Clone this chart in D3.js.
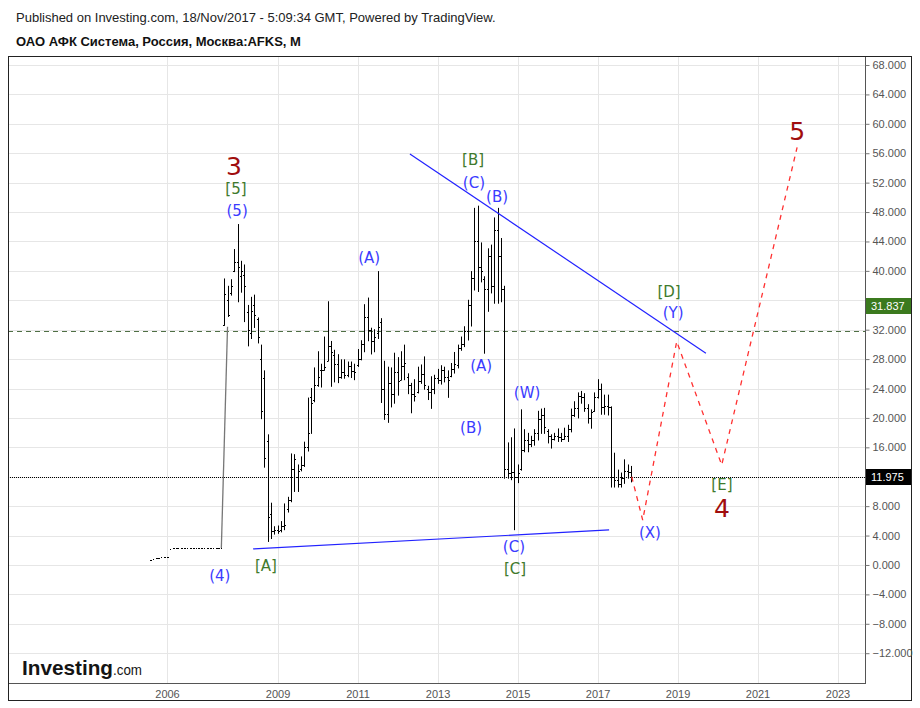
<!DOCTYPE html>
<html><head><meta charset="utf-8">
<script src="https://cdn.jsdelivr.net/npm/d3@7"></script>
<style>
body{margin:0;background:#fff;}
svg{display:block;font-family:"Liberation Sans",Arial,sans-serif;}
</style>
</head><body>
<svg id="c" width="920" height="708"></svg>
<script>
// ---------------- DATA ----------------
// Monthly OHLC, first bar = Sep 2007, last bar = Nov 2017
const firstBarYear = 2007, firstBarMonth = 8; // 0-based month (Sep)
const open = [32.6,36.0,37.0,40.0,41.2,39.3,39.5,34.4,31.5,35.3,33.4,28.0,25.4,16.9,6.9,4.6,4.8,4.7,5.3,7.6,
  8.8,13.0,12.0,13.0,13.6,16.0,22.8,22.5,24.5,26.5,26.5,27.8,29.8,28.5,27.3,25.5,26.3,25.9,27.0,26.4,
  27.2,28.0,30.0,33.7,31.9,30.4,31.5,33.1,24.0,20.5,24.8,23.2,26.2,25.2,27.0,25.5,24.5,23.3,23.5,25.0,
  26.0,24.0,23.5,24.0,25.4,25.2,26.5,25.5,25.7,26.6,27.2,29.5,30.0,31.8,35.4,39.0,44.0,40.5,38.9,37.5,
  42.0,38.0,45.5,42.0,37.5,13.0,12.5,12.6,12.0,13.0,15.6,17.0,16.5,17.0,18.0,19.8,20.4,18.2,17.6,17.2,
  17.5,17.4,17.2,17.6,18.5,20.4,21.4,23.0,22.8,21.4,20.0,21.0,22.8,24.0,21.5,21.6,21.5,12.0,11.5,11.0,
  11.8,12.8,12.6];
const high = [38.9,37.9,38.8,42.9,46.3,41.3,40.8,35.3,36.4,36.7,33.6,29.9,26.4,17.7,8.4,5.2,5.3,5.9,8.3,9.2,
  15.1,15.0,13.6,14.7,16.7,22.7,24.0,26.8,29.0,27.3,31.0,35.8,30.4,29.2,28.6,27.9,27.9,27.6,27.6,27.3,
  29.3,30.5,35.4,36.3,32.2,32.0,39.9,33.5,27.7,26.9,26.8,28.8,28.2,29.0,29.9,26.0,24.7,25.2,26.9,27.2,
  28.3,24.3,25.6,25.8,26.6,27.1,26.9,26.4,27.4,28.9,29.9,31.0,32.4,36.0,39.9,48.5,48.8,43.8,39.2,43.0,
  43.5,47.2,48.5,44.4,37.9,16.6,17.3,18.5,13.6,21.1,18.4,17.9,17.5,18.4,20.9,21.2,21.3,18.4,17.7,17.9,
  18.5,17.9,18.6,19.0,21.2,22.2,23.4,23.6,23.3,21.8,21.1,23.4,25.2,24.6,23.1,23.1,21.5,15.2,12.9,12.5,
  14.3,13.6,13.4];
const low = [32.6,33.8,36.7,39.9,35.8,37.1,33.1,29.8,30.8,32.3,30.2,19.9,13.3,3.2,3.6,4.2,4.3,4.5,4.8,7.2,
  8.6,10.0,10.0,12.8,13.4,15.5,17.9,22.2,24.3,24.2,26.5,27.8,24.3,24.9,24.8,25.4,25.4,25.6,25.5,25.2,
  27.0,27.9,29.0,30.5,28.7,29.0,30.8,22.1,19.8,19.4,21.5,22.0,23.1,25.2,25.2,23.3,20.7,22.3,23.4,24.7,
  23.9,22.5,21.3,23.3,24.7,24.6,24.9,22.8,25.6,26.1,26.8,29.2,29.7,30.6,32.5,37.4,37.2,38.5,28.8,34.5,
  37.0,35.6,35.6,35.8,11.8,11.8,11.6,4.8,11.2,12.9,15.4,15.4,16.1,16.3,17.0,17.9,17.9,16.6,15.9,17.0,
  16.8,16.8,17.1,16.8,18.1,20.2,20.0,22.0,20.9,19.3,18.6,20.9,22.7,20.5,20.5,20.4,10.6,10.6,10.6,10.6,
  11.1,11.8,11.3];
const close = [36.8,34.0,38.0,41.2,40.5,40.0,37.9,32.0,34.5,34.0,31.0,21.0,14.5,6.5,4.6,4.8,4.6,5.3,5.4,8.8,
  13.0,14.4,12.8,13.6,16.0,18.0,22.0,24.5,25.5,26.5,26.9,29.8,29.0,27.3,25.5,26.3,25.9,27.0,26.4,26.2,
  28.0,30.0,33.7,32.0,30.4,31.0,32.4,24.0,20.5,24.8,23.2,26.2,25.0,27.0,27.5,24.5,23.3,23.0,25.0,26.0,
  24.5,23.5,24.0,25.4,25.2,26.5,25.5,25.2,26.6,27.4,29.5,30.0,31.8,35.4,39.0,44.0,40.5,40.0,37.5,42.0,
  38.0,45.5,42.0,37.5,13.0,12.5,12.6,12.0,12.5,15.6,17.0,16.5,17.0,18.0,19.8,20.4,18.8,17.6,17.2,17.5,
  17.4,17.2,17.6,18.5,20.4,21.4,23.0,22.8,21.4,20.0,20.8,22.8,24.0,21.5,21.6,21.5,12.0,11.5,11.0,11.8,
  12.8,12.6,11.975];

// Early thin history, monthly from Jul 2005 to Aug 2007
const earlyStartYear = 2005, earlyStartMonth = 6;
const earlyValue = [0.7,0.75,0.9,1.0,1.05,1.1,1.1,2.2,2.3,2.25,2.3,2.3,2.35,2.3,2.3,2.35,2.3,2.3,2.35,2.3,
  2.3,2.35,2.3,2.3,2.35,2.3];

const yTickValues = [-12,-8,-4,0,4,8,12,16,20,24,28,32,36,40,44,48,52,56,60,64,68];
const yTickShown  = [-12,-8,-4,0,4,8,16,20,24,28,32,40,44,48,52,56,60,64,68];
const yearLabels = [2006,2009,2011,2013,2015,2017,2019,2021,2023];

const markerLevel = 31.837;   // green price marker (value shown)
const markerTagLevel = 35.2;  // where its tag sits on the scale
const lastPrice = 11.975;     // current price

// trendlines (decimal year, value)
const upperLine = [[2012.31,55.9],[2019.71,28.8]];
const lowerLine = [[2008.39,2.18],[2017.29,4.76]];
const jumpLine  = [[2007+7/12,2.3],[2007+9/12,32.4]];
const projection = [[2017.855,12.0],[2018.13,6.1],[2018.98,30.4],[2020.105,13.6],[2021.99,56.8]];

// Elliott wave labels
const waveText  = ["3","[5]","(5)","(4)","[A]","(A)","[B]","(C)","(B)","(A)","(B)","(W)","(C)","[C]","[D]","(Y)","(X)","[E]","4","5"];
const waveTime  = [2007.91,2007.96,2007.99,2007.54,2008.71,2011.29,2013.89,2013.91,2014.49,2014.09,2013.84,2015.24,2014.91,2014.94,2018.79,2018.89,2018.31,2020.11,2020.11,2021.99];
const waveValue = [54.2,51.2,48.1,-1.5,-0.14,41.75,55.1,52.0,50.0,27.1,18.6,23.4,2.45,-0.54,37.1,34.3,4.35,10.9,7.7,59.0];

// ---------------- CHART ----------------
const svg = d3.select("#c");
const L = 8, R = 865, T = 56, B = 683;
const x = d3.scaleLinear().domain([2006, 2007 + 8/12, 2024]).range([167, 224.2, 877.5]);
const y = d3.scaleLinear().domain([-12, 68]).range([653.2, 65]);

svg.append("defs").append("clipPath").attr("id","clip")
  .append("rect").attr("x",L).attr("y",T).attr("width",R-L).attr("height",B-T);

// header
svg.append("text").attr("x",16).attr("y",22).attr("font-size",13).attr("fill","#222")
  .text("Published on Investing.com, 18/Nov/2017 - 5:09:34 GMT, Powered by TradingView.");
svg.append("text").attr("x",16).attr("y",46).attr("font-size",13).attr("font-weight","bold").attr("fill","#111")
  .text("ОАО АФК Система, Россия, Москва:AFKS, M");

const plot = svg.append("g").attr("clip-path","url(#clip)");

// grid
plot.selectAll("line.hg").data(yTickValues).join("line").attr("class","hg")
  .attr("x1",L).attr("x2",R)
  .attr("y1",d=>Math.round(y(d))+0.5).attr("y2",d=>Math.round(y(d))+0.5)
  .attr("stroke","#e6e6e6");
plot.selectAll("line.vg").data(yearLabels).join("line").attr("class","vg")
  .attr("x1",d=>Math.round(x(d))+0.5).attr("x2",d=>Math.round(x(d))+0.5)
  .attr("y1",T).attr("y2",B).attr("stroke","#e6e6e6");

// horizontal reference lines
plot.append("line").attr("x1",L).attr("x2",R)
  .attr("y1",Math.round(y(markerLevel))+0.5).attr("y2",Math.round(y(markerLevel))+0.5)
  .attr("stroke","#4f6f45").attr("stroke-dasharray","5,4");
plot.append("line").attr("x1",L).attr("x2",R)
  .attr("y1",Math.round(y(lastPrice))+0.5).attr("y2",Math.round(y(lastPrice))+0.5)
  .attr("stroke","#000").attr("stroke-dasharray","1,1");

// OHLC bars
function drawBars(data, full){
  const gb = plot.append("g").attr("stroke","#000").attr("stroke-width",1);
  data.forEach((d,i)=>{
    const px = Math.round(x(d.t));
    const yo = Math.round(y(d.o))+0.5, yc = Math.round(y(d.c))+0.5;
    if (full) {
      gb.append("line").attr("x1",px+0.5).attr("x2",px+0.5).attr("y1",y(d.h)-0.5).attr("y2",y(d.l)+0.5);
      gb.append("line").attr("x1",px-1).attr("x2",px+0.5).attr("y1",yo).attr("y2",yo);
      gb.append("line").attr("x1",px+0.5).attr("x2",px+2).attr("y1",yc).attr("y2",yc);
    } else {
      gb.append("line").attr("x1",px).attr("x2",px+(i%3===1?1:2)).attr("y1",yc).attr("y2",yc);
    }
  });
}
const early = earlyValue.map((v,i)=>({t: earlyStartYear + (earlyStartMonth+i)/12, o:v, h:v, l:v, c:v}));
drawBars(early, false);
const bars = open.map((o,i)=>({t: firstBarYear + (firstBarMonth+i)/12, o, h:high[i], l:low[i], c:close[i]}));
drawBars(bars, true);

const line = d3.line().x(d=>x(d[0])).y(d=>y(d[1]));
plot.append("path").attr("d",line(jumpLine)).attr("fill","none").attr("stroke","#777").attr("stroke-width",1.3);
plot.append("path").attr("d",line(upperLine)).attr("fill","none").attr("stroke","#2222ff").attr("stroke-width",1.2);
plot.append("path").attr("d",line(lowerLine)).attr("fill","none").attr("stroke","#2222ff").attr("stroke-width",1.2);
plot.append("path").attr("d",line(projection)).attr("fill","none").attr("stroke","#ff3030")
  .attr("stroke-width",1.3).attr("stroke-dasharray","5,5");

// wave labels
function labelStyle(t){
  if (/^\d$/.test(t)) return {fill:"#a00d0d", size:25, family:"DejaVu Sans"};
  if (t[0]==="[") return {fill:"#3f7a2d", size:15, family:"DejaVu Sans"};
  return {fill:"#3b3bff", size:15, family:"DejaVu Sans"};
}
plot.selectAll("text.wave").data(waveText).join("text").attr("class","wave")
  .attr("x",(d,i)=>x(waveTime[i])).attr("y",(d,i)=>y(waveValue[i]))
  .attr("text-anchor","middle").attr("dominant-baseline","central")
  .attr("font-family",d=>labelStyle(d).family)
  .attr("font-size",d=>labelStyle(d).size)
  .attr("fill",d=>labelStyle(d).fill)
  .text(d=>d);

// logo
const logo = svg.append("g");
logo.append("text").attr("x",22).attr("y",675).attr("font-size",21).attr("font-weight","bold")
  .attr("fill","#141414").attr("textLength",91).attr("lengthAdjust","spacingAndGlyphs").text("Investing");
logo.append("text").attr("x",113).attr("y",675).attr("font-size",15)
  .attr("fill","#141414").attr("textLength",29).attr("lengthAdjust","spacingAndGlyphs").text(".com");

// axes lines and frame
svg.append("line").attr("x1",L).attr("x2",R+1).attr("y1",B+0.5).attr("y2",B+0.5).attr("stroke","#555");
svg.append("line").attr("x1",R+0.5).attr("x2",R+0.5).attr("y1",T).attr("y2",B+1).attr("stroke","#555");
svg.append("rect").attr("x",8.5).attr("y",56.5).attr("width",903).attr("height",644)
  .attr("fill","none").attr("stroke","#222");

// right axis
const yAxis = d3.axisRight(y).tickValues(yTickShown).tickFormat(d3.format(".3f")).tickSize(4).tickPadding(3);
const ya = svg.append("g").attr("transform",`translate(${R+0.5},0)`).call(yAxis);
ya.select(".domain").remove();
ya.selectAll("line").attr("stroke","#777");
ya.selectAll("text").attr("font-size",11).attr("fill","#555").attr("font-family","Liberation Sans, Arial, sans-serif");

// bottom axis
const xAxis = d3.axisBottom(x).tickValues(yearLabels).tickFormat(d=>String(d)).tickSize(0).tickPadding(7);
const xa = svg.append("g").attr("transform",`translate(0,${B})`).call(xAxis);
xa.select(".domain").remove();
xa.selectAll("text").attr("font-size",11).attr("fill","#555").attr("font-family","Liberation Sans, Arial, sans-serif");

// price tags
function tag(posValue, v, bg){
  const yy = Math.round(y(posValue));
  svg.append("rect").attr("x",R+1).attr("y",yy-8).attr("width",45).attr("height",16).attr("fill",bg);
  svg.append("text").attr("x",R+6).attr("y",yy+4).attr("font-size",11).attr("fill","#fff")
    .text(d3.format(".3f")(v));
}
tag(markerTagLevel, markerLevel, "#3b7a1e");
tag(lastPrice, lastPrice, "#000");
</script>
</body></html>
